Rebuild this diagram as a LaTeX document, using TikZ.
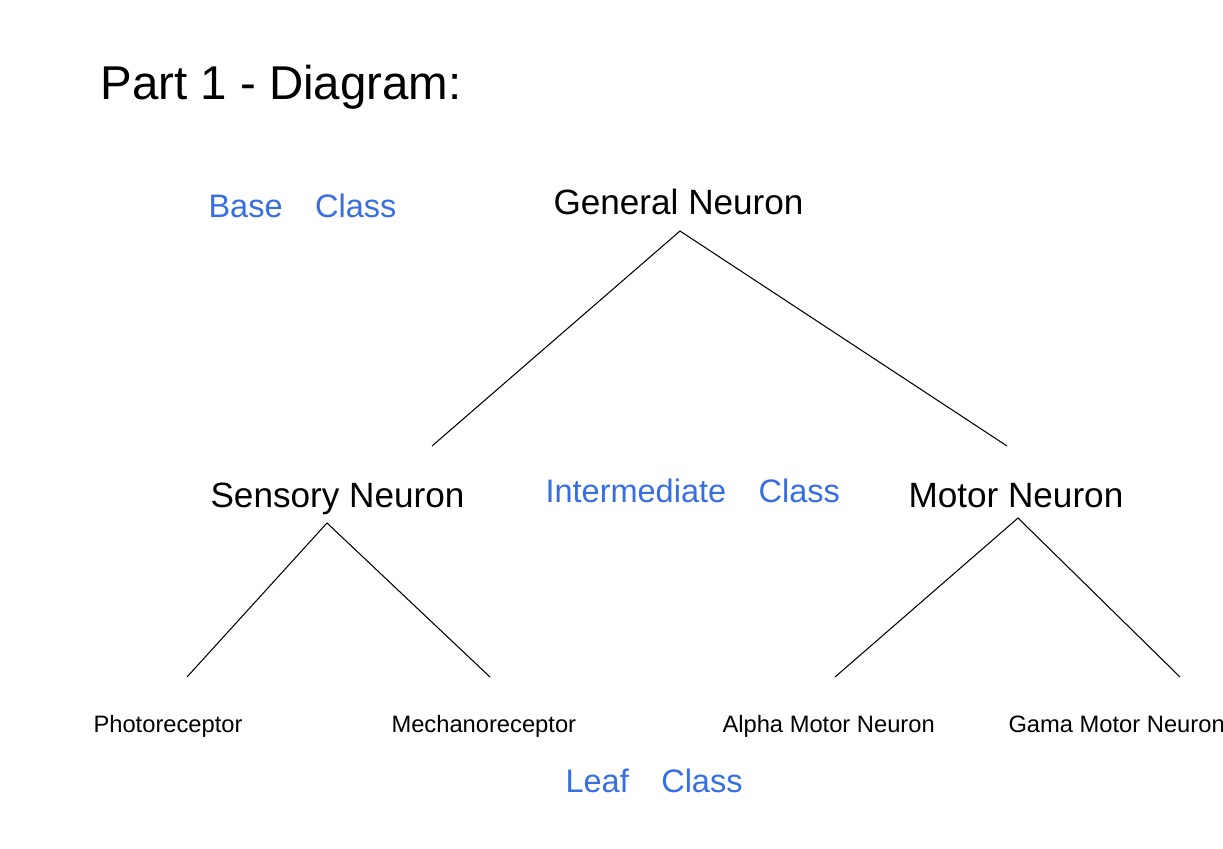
\documentclass[tikz,border=0pt]{standalone}
\usepackage{fontspec}
\setmainfont{Liberation Sans}
\usetikzlibrary{positioning}
\definecolor{classblue}{RGB}{55,110,225}
\def\Neu{Neuron}

\begin{document}
\begin{tikzpicture}[x=0.02cm,y=-0.02cm,% one unit is one pixel of the sketch
				every node/.style={
					anchor=base west,	% nodes sit on their baseline
					inner sep=0pt
				},
				title/.style={font=\fontsize{27}{32}\selectfont},
				mid/.style={font=\fontsize{20}{24}\selectfont},
				leaf/.style={font=\fontsize{13.5}{16}\selectfont},
				classnote/.style={text=classblue,font=\fontsize{18.5}{22}\selectfont},
				every path/.style={line width=0.6pt}
			]
			\useasboundingbox (0,0) rectangle (1223,848);
			\node[title](T) at (100,100) {Part 1 - Diagram:};
			% class notes in blue
			\node[classnote](B) at (208,217) {Base\quad Class};
			\node[classnote](I) at (545,502) {Intermediate\quad Class};
			\node[classnote](L) at (565,792) {Leaf\quad Class};
			% the tree
			\node[mid](G) at (553,214) {General \Neu};
			\node[mid](S) at (210,507) {Sensory \Neu};
			\node[mid](M) at (908,507) {Motor \Neu};
			\node[leaf](P) at (93,732) {Photoreceptor};
			\node[leaf](K) at (391,732) {Mechanoreceptor};
			\node[leaf](A) at (722,732) {Alpha Motor \Neu};
			\node[leaf](C) at (1008,732) {Gama Motor \Neu};
			\coordinate (G-top) at (680,231);
			\coordinate (S-end) at (432,446);
			\coordinate (M-end) at (1007,446);
			\coordinate (S-top) at (327,523);
			\coordinate (P-end) at (187,677);
			\coordinate (K-end) at (490,677);
			\coordinate (M-top) at (1018,518);
			\coordinate (A-end) at (835,677);
			\coordinate (C-end) at (1180,677);
			\draw (S-end) -- (G-top) -- (M-end);
			\draw (P-end) -- (S-top) -- (K-end);
			\draw (A-end) -- (M-top) -- (C-end);
		\end{tikzpicture}
\end{document}
